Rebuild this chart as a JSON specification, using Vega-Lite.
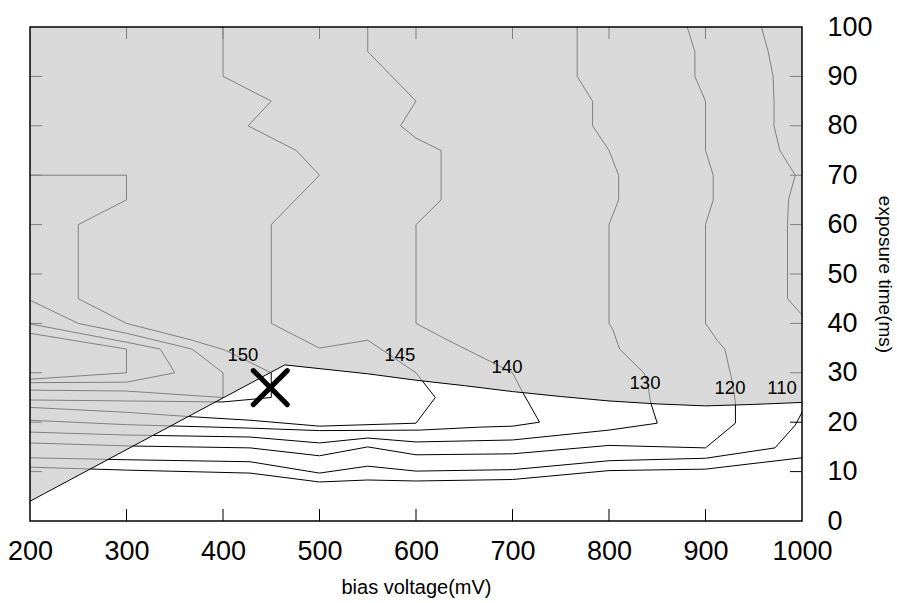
{
  "$schema": "https://vega.github.io/schema/vega-lite/v6.json",
  "width": 772,
  "height": 494,
  "autosize": {"type": "none"},
  "padding": {"left": 30, "top": 27, "right": 95, "bottom": 82},
  "background": "white",
  "config": {"view": {"stroke": null}, "font": "Liberation Sans"},
  "datasets": {
    "contours": [
      {"c":"165","o":1,"v":200,"t":38},{"c":"165","o":2,"v":300,"t":34.8},{"c":"165","o":3,"v":300,"t":30},{"c":"165","o":4,"v":200,"t":28.7},
      {"c":"160","o":1,"v":200,"t":39.9},{"c":"160","o":2,"v":300,"t":36.2},{"c":"160","o":3,"v":335,"t":34.8},{"c":"160","o":4,"v":350,"t":30},{"c":"160","o":5,"v":300,"t":28.1},{"c":"160","o":6,"v":200,"t":28},
      {"c":"155","o":1,"v":200,"t":44.7},{"c":"155","o":2,"v":250,"t":40},{"c":"155","o":3,"v":300,"t":38},{"c":"155","o":4,"v":368,"t":34.8},{"c":"155","o":5,"v":400,"t":30},{"c":"155","o":6,"v":400,"t":25},{"c":"155","o":7,"v":300,"t":26.3},{"c":"155","o":8,"v":200,"t":26.5},
      {"c":"150","o":1,"v":200,"t":70},{"c":"150","o":2,"v":300,"t":70},{"c":"150","o":3,"v":300,"t":65},{"c":"150","o":4,"v":250,"t":60},{"c":"150","o":5,"v":250,"t":45},{"c":"150","o":6,"v":300,"t":40},{"c":"150","o":7,"v":368,"t":36.6},{"c":"150","o":8,"v":402,"t":34.6},{"c":"150","o":9,"v":450,"t":30},{"c":"150","o":10,"v":450,"t":25},{"c":"150","o":11,"v":400,"t":24.1},{"c":"150","o":12,"v":300,"t":24.3},{"c":"150","o":13,"v":200,"t":24.5},
      {"c":"145","o":1,"v":200,"t":23},{"c":"145","o":2,"v":300,"t":22},{"c":"145","o":3,"v":368,"t":21.1},{"c":"145","o":4,"v":428,"t":20.4},{"c":"145","o":5,"v":500,"t":19.2},{"c":"145","o":6,"v":600,"t":19.8},{"c":"145","o":7,"v":620,"t":25},{"c":"145","o":8,"v":600,"t":30},{"c":"145","o":9,"v":550,"t":36.6},{"c":"145","o":10,"v":500,"t":35},{"c":"145","o":11,"v":450,"t":40},{"c":"145","o":12,"v":450,"t":60},{"c":"145","o":13,"v":500,"t":70},{"c":"145","o":14,"v":476,"t":75},{"c":"145","o":15,"v":426,"t":80},{"c":"145","o":16,"v":450,"t":85},{"c":"145","o":17,"v":400,"t":90},{"c":"145","o":18,"v":400,"t":100},
      {"c":"140","o":1,"v":200,"t":20.4},{"c":"140","o":2,"v":300,"t":19.5},{"c":"140","o":3,"v":428,"t":18.8},{"c":"140","o":4,"v":500,"t":18.3},{"c":"140","o":5,"v":604,"t":18.4},{"c":"140","o":6,"v":666,"t":19},{"c":"140","o":7,"v":700,"t":19.2},{"c":"140","o":8,"v":728,"t":20},{"c":"140","o":9,"v":711,"t":25.9},{"c":"140","o":10,"v":700,"t":30},{"c":"140","o":11,"v":678,"t":32.2},{"c":"140","o":12,"v":635,"t":36.4},{"c":"140","o":13,"v":600,"t":40},{"c":"140","o":14,"v":600,"t":60},{"c":"140","o":15,"v":626,"t":65},{"c":"140","o":16,"v":626,"t":75},{"c":"140","o":17,"v":600,"t":77.5},{"c":"140","o":18,"v":584,"t":80},{"c":"140","o":19,"v":600,"t":85},{"c":"140","o":20,"v":550,"t":95},{"c":"140","o":21,"v":550,"t":100},
      {"c":"130","o":1,"v":200,"t":18},{"c":"130","o":2,"v":300,"t":17.4},{"c":"130","o":3,"v":428,"t":17},{"c":"130","o":4,"v":500,"t":15.8},{"c":"130","o":5,"v":550,"t":16.8},{"c":"130","o":6,"v":600,"t":16},{"c":"130","o":7,"v":700,"t":16.4},{"c":"130","o":8,"v":800,"t":18.4},{"c":"130","o":9,"v":850,"t":19.8},{"c":"130","o":10,"v":843,"t":24.1},{"c":"130","o":11,"v":840,"t":28},{"c":"130","o":12,"v":836,"t":30},{"c":"130","o":13,"v":811,"t":34.8},{"c":"130","o":14,"v":804,"t":38.7},{"c":"130","o":15,"v":800,"t":40},{"c":"130","o":16,"v":800,"t":60},{"c":"130","o":17,"v":810,"t":65},{"c":"130","o":18,"v":810,"t":70},{"c":"130","o":19,"v":800,"t":75},{"c":"130","o":20,"v":783,"t":80},{"c":"130","o":21,"v":783,"t":85},{"c":"130","o":22,"v":767,"t":90},{"c":"130","o":23,"v":767,"t":100},
      {"c":"120","o":1,"v":200,"t":15.8},{"c":"120","o":2,"v":300,"t":15.2},{"c":"120","o":3,"v":428,"t":14.8},{"c":"120","o":4,"v":500,"t":13.2},{"c":"120","o":5,"v":550,"t":15},{"c":"120","o":6,"v":600,"t":13.4},{"c":"120","o":7,"v":700,"t":13.6},{"c":"120","o":8,"v":800,"t":15.3},{"c":"120","o":9,"v":900,"t":14.8},{"c":"120","o":10,"v":931,"t":19.8},{"c":"120","o":11,"v":931,"t":24},{"c":"120","o":12,"v":928,"t":28},{"c":"120","o":13,"v":920,"t":34.8},{"c":"120","o":14,"v":912,"t":36.6},{"c":"120","o":15,"v":900,"t":40},{"c":"120","o":16,"v":900,"t":60},{"c":"120","o":17,"v":908,"t":65},{"c":"120","o":18,"v":908,"t":70},{"c":"120","o":19,"v":900,"t":75},{"c":"120","o":20,"v":900,"t":85},{"c":"120","o":21,"v":889,"t":90},{"c":"120","o":22,"v":889,"t":95},{"c":"120","o":23,"v":881,"t":100},
      {"c":"110","o":1,"v":200,"t":12.8},{"c":"110","o":2,"v":300,"t":12.4},{"c":"110","o":3,"v":428,"t":12},{"c":"110","o":4,"v":500,"t":9.7},{"c":"110","o":5,"v":550,"t":11.1},{"c":"110","o":6,"v":600,"t":10.1},{"c":"110","o":7,"v":700,"t":10.4},{"c":"110","o":8,"v":800,"t":12.2},{"c":"110","o":9,"v":900,"t":12.7},{"c":"110","o":10,"v":972,"t":14.8},{"c":"110","o":11,"v":993,"t":19.4},{"c":"110","o":12,"v":1000,"t":22},
      {"c":"110b","o":1,"v":1000,"t":41.7},{"c":"110b","o":2,"v":985,"t":45},{"c":"110b","o":3,"v":985,"t":60},{"c":"110b","o":4,"v":986,"t":65},{"c":"110b","o":5,"v":993,"t":70},{"c":"110b","o":6,"v":977,"t":75},{"c":"110b","o":7,"v":971,"t":80},{"c":"110b","o":8,"v":971,"t":85},{"c":"110b","o":9,"v":970,"t":90},{"c":"110b","o":10,"v":965,"t":95},{"c":"110b","o":11,"v":958,"t":100},
      {"c":"100","o":1,"v":200,"t":10.9},{"c":"100","o":2,"v":300,"t":10.3},{"c":"100","o":3,"v":428,"t":9.7},{"c":"100","o":4,"v":500,"t":7.9},{"c":"100","o":5,"v":550,"t":8.3},{"c":"100","o":6,"v":600,"t":8.1},{"c":"100","o":7,"v":700,"t":8.4},{"c":"100","o":8,"v":800,"t":10.2},{"c":"100","o":9,"v":900,"t":10.5},{"c":"100","o":10,"v":1000,"t":12.8}
    ],
    "boundary": [
      {"v":200,"t":4},{"v":464,"t":31.6},{"v":550,"t":29.8},{"v":600,"t":28.5},{"v":650,"t":27.4},{"v":700,"t":26.2},{"v":750,"t":25.2},{"v":800,"t":24.3},{"v":850,"t":23.7},{"v":900,"t":23.3},{"v":950,"t":23.6},{"v":1000,"t":24}
    ],
    "ticksBottom": [{"v":300,"t":0},{"v":400,"t":0},{"v":500,"t":0},{"v":600,"t":0},{"v":700,"t":0},{"v":800,"t":0},{"v":900,"t":0}],
    "ticksTop": [{"v":300,"t":100},{"v":400,"t":100},{"v":500,"t":100},{"v":600,"t":100},{"v":700,"t":100},{"v":800,"t":100},{"v":900,"t":100}],
    "ticksLeft": [{"v":200,"t":10},{"v":200,"t":20},{"v":200,"t":30},{"v":200,"t":40},{"v":200,"t":50},{"v":200,"t":60},{"v":200,"t":70},{"v":200,"t":80},{"v":200,"t":90}],
    "ticksRight": [{"v":1000,"t":10},{"v":1000,"t":20},{"v":1000,"t":30},{"v":1000,"t":40},{"v":1000,"t":50},{"v":1000,"t":60},{"v":1000,"t":70},{"v":1000,"t":80},{"v":1000,"t":90}],
    "labels": [
      {"v":420.7,"t":33.6,"label":"150"},{"v":583.4,"t":33.6,"label":"145"},{"v":694.3,"t":31.2,"label":"140"},{"v":837.3,"t":27.9,"label":"130"},{"v":925.4,"t":26.9,"label":"120"},{"v":979.3,"t":26.9,"label":"110"}
    ],
    "marker": [{"v":449,"t":27}],
    "frame": [{"v":200,"v2":1000,"t":0,"t2":100}]
  },
  "resolve": {"axis": {"x": "independent", "y": "independent"}},
  "layer": [
    {
      "data": {"name": "contours"},
      "mark": {"type": "line", "color": "black", "strokeWidth": 1},
      "encoding": {
        "x": {"field": "v", "type": "quantitative", "scale": {"domain": [200, 1000], "nice": false, "zero": false},
          "axis": {"orient": "bottom", "values": [200,300,400,500,600,700,800,900,1000], "format": "d", "ticks": false, "domain": false, "grid": false,
            "labelFontSize": 27, "labelColor": "#000", "labelPadding": 17, "labelFlush": false, "labelOverlap": false, "labelFont": "Liberation Sans",
            "title": "bias voltage(mV)", "titleFontSize": 20, "titleFontWeight": "normal", "titleColor": "#000", "titlePadding": 13, "titleFont": "Liberation Sans"}},
        "y": {"field": "t", "type": "quantitative", "scale": {"domain": [0, 100], "nice": false, "zero": false},
          "axis": {"orient": "right", "values": [0,10,20,30,40,50,60,70,80,90,100], "format": "d", "ticks": false, "domain": false, "grid": false,
            "labelFontSize": 27, "labelColor": "#000", "labelPadding": 25, "labelFlush": false, "labelOverlap": false, "labelFont": "Liberation Sans",
            "title": "exposure time(ms)", "titleFontSize": 19, "titleFontWeight": "normal", "titleColor": "#000", "titlePadding": 2, "titleFont": "Liberation Sans"}},
        "detail": {"field": "c", "type": "nominal"},
        "order": {"field": "o", "type": "quantitative"}
      }
    },
    {
      "data": {"name": "ticksBottom"},
      "mark": {"type": "tick", "orient": "vertical", "size": 12, "thickness": 1, "color": "black", "opacity": 1, "yOffset": -6},
      "encoding": {
        "x": {"field": "v", "type": "quantitative", "axis": null},
        "y": {"field": "t", "type": "quantitative", "axis": null}
      }
    },
    {
      "data": {"name": "ticksTop"},
      "mark": {"type": "tick", "orient": "vertical", "size": 12, "thickness": 1, "color": "black", "opacity": 1, "yOffset": 6},
      "encoding": {
        "x": {"field": "v", "type": "quantitative", "axis": null},
        "y": {"field": "t", "type": "quantitative", "axis": null}
      }
    },
    {
      "data": {"name": "ticksLeft"},
      "mark": {"type": "tick", "orient": "horizontal", "size": 12, "thickness": 1, "color": "black", "opacity": 1, "xOffset": 6},
      "encoding": {
        "x": {"field": "v", "type": "quantitative", "axis": null},
        "y": {"field": "t", "type": "quantitative", "axis": null}
      }
    },
    {
      "data": {"name": "ticksRight"},
      "mark": {"type": "tick", "orient": "horizontal", "size": 12, "thickness": 1, "color": "black", "opacity": 1, "xOffset": -6},
      "encoding": {
        "x": {"field": "v", "type": "quantitative", "axis": null},
        "y": {"field": "t", "type": "quantitative", "axis": null}
      }
    },
    {
      "data": {"name": "boundary"},
      "mark": {"type": "area", "fill": "#c5c5c5", "fillOpacity": 0.65, "strokeWidth": 0},
      "encoding": {
        "x": {"field": "v", "type": "quantitative", "axis": null},
        "y": {"field": "t", "type": "quantitative", "axis": null},
        "y2": {"datum": 100}
      }
    },
    {
      "data": {"name": "boundary"},
      "mark": {"type": "line", "color": "black", "strokeWidth": 1},
      "encoding": {
        "x": {"field": "v", "type": "quantitative", "axis": null},
        "y": {"field": "t", "type": "quantitative", "axis": null}
      }
    },
    {
      "data": {"name": "frame"},
      "mark": {"type": "rect", "fillOpacity": 0, "stroke": "black", "strokeWidth": 1.5},
      "encoding": {
        "x": {"field": "v", "type": "quantitative", "axis": null},
        "x2": {"field": "v2"},
        "y": {"field": "t", "type": "quantitative", "axis": null},
        "y2": {"field": "t2"}
      }
    },
    {
      "data": {"name": "labels"},
      "mark": {"type": "text", "fontSize": 18.5, "font": "Liberation Sans", "align": "center", "baseline": "middle", "color": "black"},
      "encoding": {
        "x": {"field": "v", "type": "quantitative", "axis": null},
        "y": {"field": "t", "type": "quantitative", "axis": null},
        "text": {"field": "label", "type": "nominal"}
      }
    },
    {
      "data": {"name": "marker"},
      "mark": {"type": "point", "shape": "M-1,-1L1,1M-1,1L1,-1", "size": 1156, "filled": false, "stroke": "black", "strokeWidth": 5, "strokeCap": "round", "opacity": 1},
      "encoding": {
        "x": {"field": "v", "type": "quantitative", "axis": null},
        "y": {"field": "t", "type": "quantitative", "axis": null}
      }
    }
  ]
}
